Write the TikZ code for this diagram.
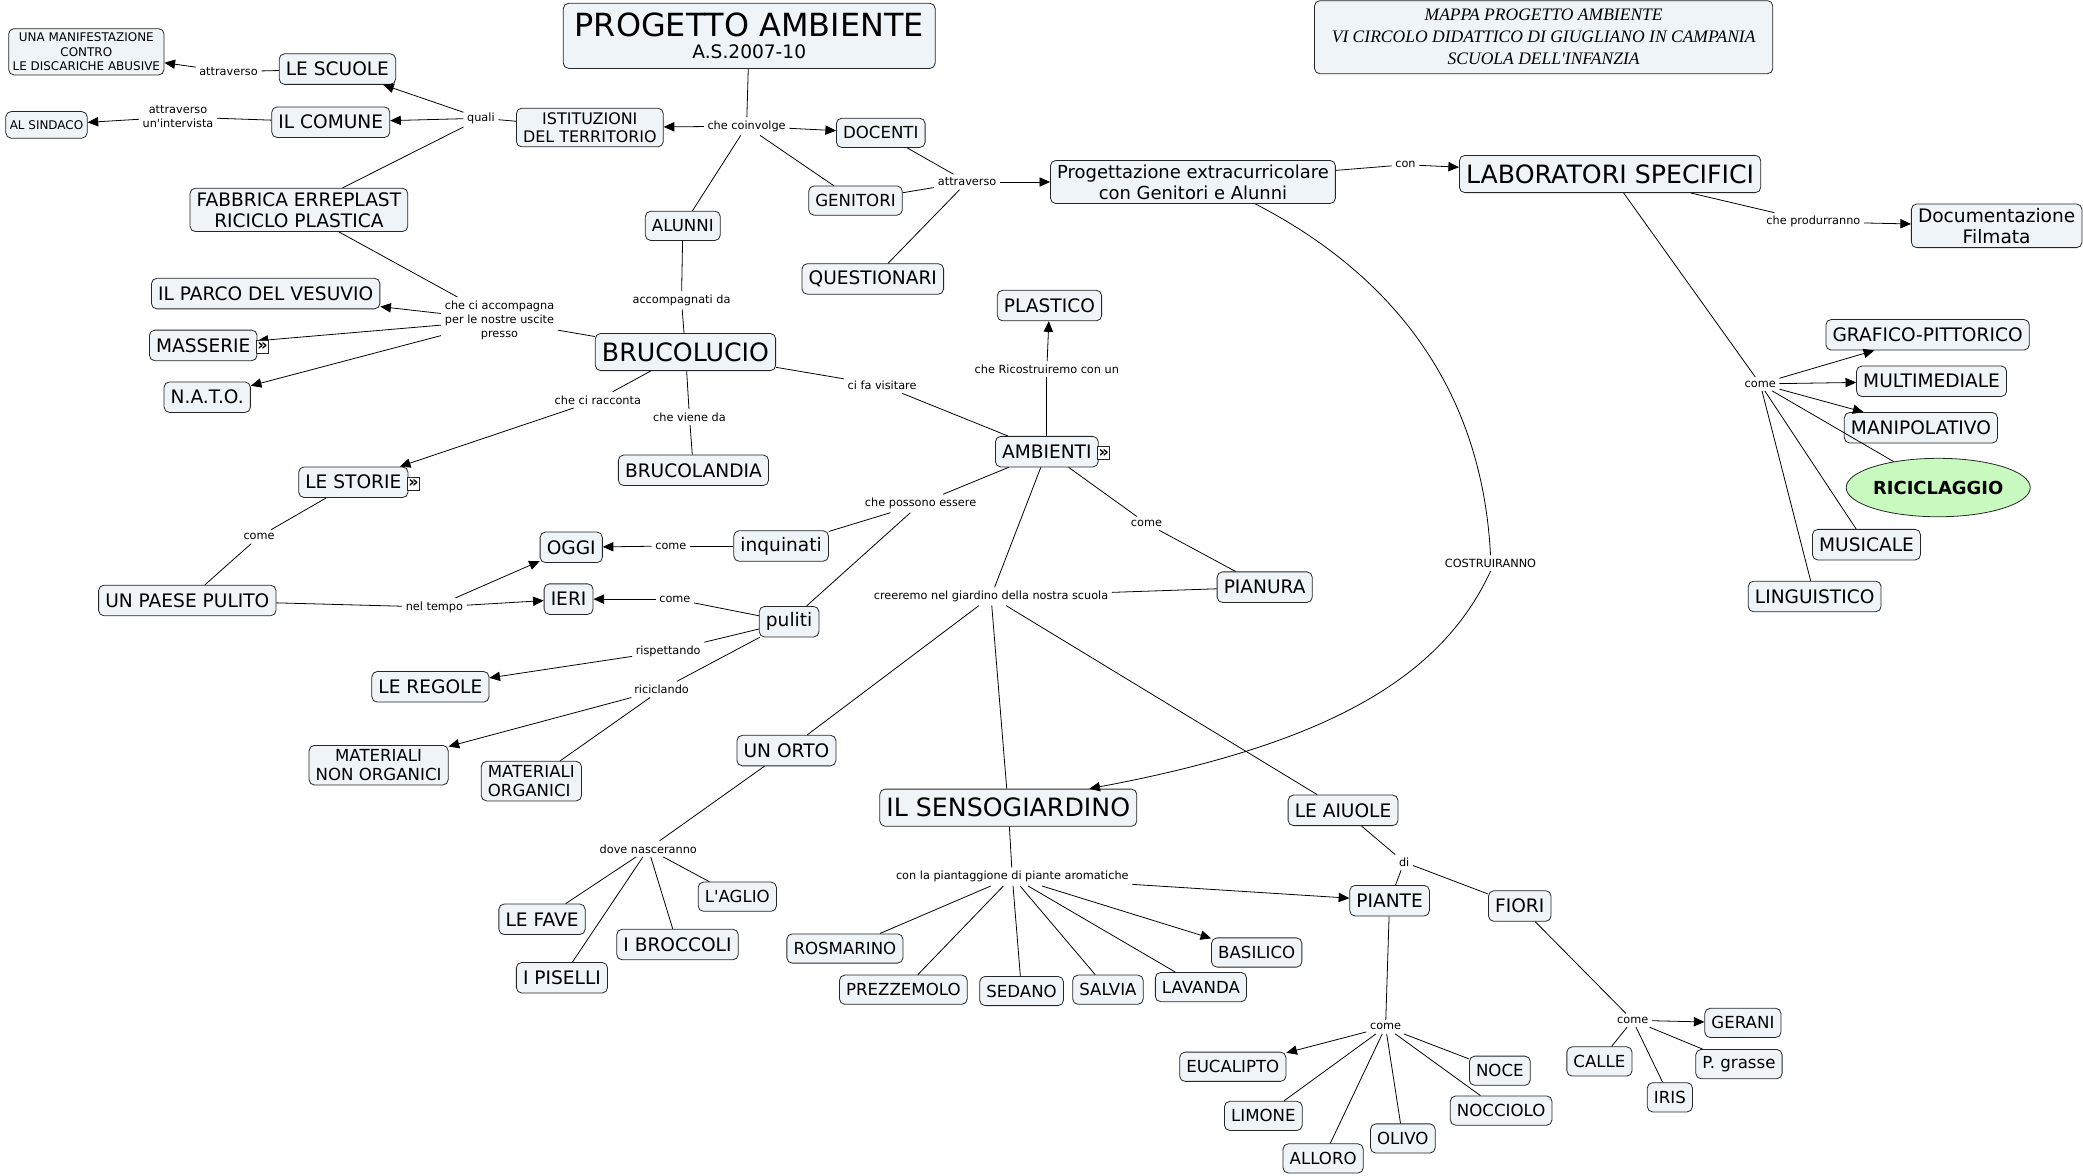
\documentclass[tikz,border=0pt]{standalone}
\usepackage{fontspec}
\setmainfont{DejaVu Sans}
\newfontfamily\headfont{Liberation Serif}
\usetikzlibrary{positioning,shapes.geometric,arrows.meta}
\definecolor{conceptfill}{RGB}{238,244,247}
\definecolor{recyclefill}{RGB}{200,250,192}

\begin{document}
\begin{tikzpicture}[x=1pt, y=-1pt, line width=0.6pt,
        concept/.style={draw=black!85, rounded corners=4pt, fill=conceptfill, align=center, inner xsep=5pt, inner ysep=3pt, minimum height=23pt, font=\fontsize{14}{16}\selectfont},
        smallconcept/.style={concept, minimum height=22pt, font=\fontsize{12.5}{14.5}\selectfont},
        tinyconcept/.style={concept, inner xsep=3pt, minimum height=20pt, font=\fontsize{9}{11}\selectfont},
        bigconcept/.style={concept, minimum height=28pt, font=\fontsize{19}{21}\selectfont},
        link/.style={align=center, inner sep=2.5pt, font=\fontsize{8.5}{10.5}\selectfont},
        iconbox/.style={draw=black!85, fill=white, inner sep=0pt, minimum width=9pt, minimum height=10pt, font=\bfseries\fontsize{12}{12}\selectfont},
        arrow/.style={-{Stealth[length=8pt, width=7pt, inset=0pt]}}
    ]
    \useasboundingbox (0,0) rectangle (1568,885);

    % titles
    \node[concept, minimum width=280pt, minimum height=49pt, inner ysep=2pt] (prog) at (564,27) {{\fontsize{24}{26}\selectfont PROGETTO AMBIENTE}\\[1pt]{\fontsize{14}{16}\selectfont A.S.2007-10}};
    \node[concept, minimum width=345pt, minimum height=55pt, font=\headfont\itshape\fontsize{13.2}{16.5}\selectfont] (mappa) at (1162,28) {MAPPA PROGETTO AMBIENTE\\VI CIRCOLO DIDATTICO DI GIUGLIANO IN CAMPANIA\\SCUOLA DELL\textquotesingle INFANZIA};

    % concepts
    \node[tinyconcept] (manif) at (65,39) {UNA MANIFESTAZIONE\\CONTRO\\LE DISCARICHE ABUSIVE};
    \node[tinyconcept] (sindaco) at (35,94) {AL SINDACO};
    \node[concept] (scuole) at (254,52) {LE SCUOLE};
    \node[concept] (comune) at (249,92) {IL COMUNE};
    \node[smallconcept, font=\fontsize{12}{14}\selectfont] (istit) at (444,96) {ISTITUZIONI\\DEL TERRITORIO};
    \node[concept] (fabbrica) at (225,158) {FABBRICA ERREPLAST\\RICICLO PLASTICA};
    \node[concept] (parco) at (200,221) {IL PARCO DEL VESUVIO};
    \node[concept] (masserie) at (153,260) {MASSERIE};
    \node[concept] (nato) at (156,299) {N.A.T.O.};
    \node[smallconcept] (docenti) at (663,100) {DOCENTI};
    \node[smallconcept] (alunni) at (514,170) {ALUNNI};
    \node[smallconcept] (genitori) at (644,151) {GENITORI};
    \node[concept] (question) at (657,210) {QUESTIONARI};
    \node[concept, font=\fontsize{13.5}{16}\selectfont] (progett) at (898,137) {Progettazione extracurricolare\\con Genitori e Alunni};
    \node[bigconcept] (lab) at (1212,131) {LABORATORI SPECIFICI};
    \node[concept] (docum) at (1503,170) {Documentazione\\Filmata};
    \node[bigconcept] (bruco) at (516,265) {BRUCOLUCIO};
    \node[concept] (plastico) at (790,230) {PLASTICO};
    \node[concept] (brucol) at (522,354) {BRUCOLANDIA};
    \node[concept] (ambienti) at (788,340) {AMBIENTI};
    \node[concept] (storie) at (266,363) {LE STORIE};
    \node[concept] (oggi) at (430,412) {OGGI};
    \node[concept] (inquinati) at (588,411) {inquinati};
    \node[concept] (pianura) at (952,442) {PIANURA};
    \node[concept] (paese) at (141,452) {UN PAESE PULITO};
    \node[concept] (ieri) at (428,451) {IERI};
    \node[concept] (puliti) at (594,468) {puliti};
    \node[concept] (regole) at (324,517) {LE REGOLE};
    \node[smallconcept] (nonorg) at (285,576) {MATERIALI\\NON ORGANICI};
    \node[smallconcept, align=left] (organ) at (400,588) {MATERIALI\\ORGANICI};
    \node[concept] (orto) at (592,565) {UN ORTO};
    \node[bigconcept] (senso) at (759,608) {IL SENSOGIARDINO};
    \node[concept] (aiuole) at (1011,610) {LE AIUOLE};
    \node[smallconcept] (aglio) at (555,675) {L\textquotesingle AGLIO};
    \node[concept] (fave) at (408,692) {LE FAVE};
    \node[concept] (piante) at (1046,678) {PIANTE};
    \node[concept] (fiori) at (1144,682) {FIORI};
    \node[concept] (broccoli) at (510,711) {I BROCCOLI};
    \node[concept] (piselli) at (423,736) {I PISELLI};
    \node[smallconcept] (rosmarino) at (636,714) {ROSMARINO};
    \node[smallconcept] (basilico) at (946,717) {BASILICO};
    \node[smallconcept] (prezz) at (680,745) {PREZZEMOLO};
    \node[smallconcept] (sedano) at (769,746) {SEDANO};
    \node[smallconcept] (salvia) at (834,745) {SALVIA};
    \node[smallconcept] (lavanda) at (904,743) {LAVANDA};
    \node[smallconcept] (gerani) at (1312,770) {GERANI};
    \node[smallconcept] (eucal) at (928,803) {EUCALIPTO};
    \node[smallconcept] (noce) at (1129,806) {NOCE};
    \node[smallconcept] (calle) at (1204,799) {CALLE};
    \node[smallconcept] (pgrasse) at (1309,801) {P. grasse};
    \node[smallconcept] (limone) at (951,840) {LIMONE};
    \node[smallconcept] (nocciolo) at (1130,836) {NOCCIOLO};
    \node[smallconcept] (iris) at (1257,826) {IRIS};
    \node[smallconcept] (olivo) at (1056,857) {OLIVO};
    \node[smallconcept] (alloro) at (996,872) {ALLORO};
    \node[concept] (grafico) at (1451,252) {GRAFICO-PITTORICO};
    \node[concept] (multi) at (1454,287) {MULTIMEDIALE};
    \node[concept] (manip) at (1446,322) {MANIPOLATIVO};
    \node[ellipse, draw=black!85, fill=recyclefill, inner sep=0pt, minimum width=119pt, minimum height=44pt, font=\bfseries\fontsize{13.5}{15}\selectfont] (ricic) at (1459,367) {RICICLAGGIO};
    \node[concept] (musicale) at (1405,410) {MUSICALE};
    \node[concept] (linguist) at (1366,449) {LINGUISTICO};

    % linking phrases
    \node[link] (quali) at (362,89) {quali};
    \node[link] (attrscuole) at (172,54) {attraverso};
    \node[link] (attrcomune) at (134,88) {attraverso\\un\textquotesingle intervista};
    \node[link] (coinvolge) at (562,95) {che coinvolge};
    \node[link] (attrprog) at (728,137) {attraverso};
    \node[link] (con) at (1058,124) {con};
    \node[link] (produrr) at (1365,167) {che produrranno};
    \node[link] (comelab) at (1325,289) {come};
    \node[link] (costruir) at (1122,424) {COSTRUIRANNO};
    \node[link] (accompagnati) at (513,226) {accompagnati da};
    \node[link] (accompagna) at (376,241) {che ci accompagna\\per le nostre uscite\\presso};
    \node[link] (visitare) at (664,290) {ci fa visitare};
    \node[link] (racconta) at (450,301) {che ci racconta};
    \node[link] (viene) at (519,314) {che viene da};
    \node[link] (ricostr) at (788,278) {che Ricostruiremo con un};
    \node[link] (possono) at (693,379) {che possono essere};
    \node[link] (comeamb) at (863,394) {come};
    \node[link] (comestorie) at (195,404) {come};
    \node[link] (cominq) at (505,411) {come};
    \node[link] (creeremo) at (746,449) {creeremo nel giardino della nostra scuola};
    \node[link] (tempo) at (327,457) {nel tempo};
    \node[link] (comepul) at (508,451) {come};
    \node[link] (rispett) at (503,490) {rispettando};
    \node[link] (ricicl) at (498,519) {riciclando};
    \node[link] (nasceranno) at (488,639) {dove nasceranno};
    \node[link] (di) at (1057,649) {di};
    \node[link] (piantagg) at (762,660) {con la piantaggione di piante aromatiche};
    \node[link] (comepiante) at (1043,773) {come};
    \node[link] (comefiori) at (1229,768) {come};

    % connectors
    \draw (istit) -- (quali);
    \draw[arrow] (quali) -- (scuole);
    \draw[arrow] (quali) -- (comune);
    \draw (quali) -- (fabbrica);
    \draw (scuole) -- (attrscuole);
    \draw[arrow] (attrscuole) -- (manif);
    \draw (comune) -- (attrcomune);
    \draw[arrow] (attrcomune) -- (sindaco);
    \draw (prog) -- (coinvolge);
    \draw[arrow] (coinvolge) -- (istit);
    \draw[arrow] (coinvolge) -- (docenti);
    \draw (coinvolge) -- (alunni);
    \draw (coinvolge) -- (genitori);
    \draw (docenti) -- (attrprog);
    \draw (genitori) -- (attrprog);
    \draw (question) -- (attrprog);
    \draw[arrow] (attrprog) -- (progett);
    \draw (progett) -- (con);
    \draw[arrow] (con) -- (lab);
    \draw (lab) -- (produrr);
    \draw[arrow] (produrr) -- (docum);
    \draw (lab) -- (comelab);
    \draw[arrow] (comelab) -- (grafico);
    \draw[arrow] (comelab) -- (multi);
    \draw[arrow] (comelab) -- (manip);
    \draw (comelab) -- (ricic);
    \draw (comelab) -- (musicale);
    \draw (comelab) -- (linguist);
    \draw ([xshift=47pt]progett.south) .. controls (1035,200) and (1115,280) .. (costruir.north);
    \draw[arrow] (costruir.south) .. controls (1085,510) and (1000,560) .. ([xshift=61pt]senso.north);
    \draw (alunni) -- (accompagnati);
    \draw (accompagnati) -- (bruco);
    \draw (fabbrica) -- (accompagna);
    \draw (bruco) -- (accompagna);
    \draw[arrow] (accompagna) -- (parco);
    \draw[arrow] (accompagna) -- (masserie);
    \draw[arrow] (accompagna) -- (nato);
    \draw (bruco) -- (visitare);
    \draw (visitare) -- (ambienti);
    \draw (bruco) -- (racconta);
    \draw[arrow] (racconta) -- (storie);
    \draw (bruco) -- (viene);
    \draw (viene) -- (brucol);
    \draw (ambienti) -- (ricostr);
    \draw[arrow] (ricostr) -- (plastico);
    \draw (ambienti) -- (possono);
    \draw (possono) -- (inquinati);
    \draw (possono) -- (puliti);
    \draw (ambienti) -- (comeamb);
    \draw (comeamb) -- (pianura);
    \draw (ambienti) -- (creeremo);
    \draw (pianura) -- (creeremo);
    \draw (creeremo) -- (orto);
    \draw (creeremo) -- (senso);
    \draw (creeremo) -- (aiuole);
    \draw (storie) -- (comestorie);
    \draw (comestorie) -- (paese);
    \draw (paese) -- (tempo);
    \draw[arrow] (tempo) -- (oggi);
    \draw[arrow] (tempo) -- (ieri);
    \draw (inquinati) -- (cominq);
    \draw[arrow] (cominq) -- (oggi);
    \draw (puliti) -- (comepul);
    \draw[arrow] (comepul) -- (ieri);
    \draw (puliti) -- (rispett);
    \draw[arrow] (rispett) -- (regole);
    \draw (puliti) -- (ricicl);
    \draw[arrow] (ricicl) -- (nonorg);
    \draw (ricicl) -- (organ);
    \draw (orto) -- (nasceranno);
    \draw (nasceranno) -- (fave);
    \draw (nasceranno) -- (piselli);
    \draw (nasceranno) -- (broccoli);
    \draw (nasceranno) -- (aglio);
    \draw (senso) -- (piantagg);
    \draw (piantagg) -- (rosmarino);
    \draw (piantagg) -- (prezz);
    \draw (piantagg) -- (sedano);
    \draw (piantagg) -- (salvia);
    \draw (piantagg) -- (lavanda);
    \draw[arrow] (piantagg) -- (basilico);
    \draw[arrow] (piantagg) -- (piante);
    \draw (aiuole) -- (di);
    \draw (di) -- (piante);
    \draw (di) -- (fiori);
    \draw (piante) -- (comepiante);
    \draw[arrow] (comepiante) -- (eucal);
    \draw (comepiante) -- (limone);
    \draw (comepiante) -- (alloro);
    \draw (comepiante) -- (olivo);
    \draw (comepiante) -- (nocciolo);
    \draw (comepiante) -- (noce);
    \draw (fiori) -- (comefiori);
    \draw[arrow] (comefiori) -- (gerani);
    \draw (comefiori) -- (calle);
    \draw (comefiori) -- (iris);
    \draw (comefiori) -- (pgrasse);

    % expand marks
    \node[iconbox, right=-1pt of masserie, yshift=-1pt] (masserieicon) {»};
    \node[iconbox, right=-1pt of storie, yshift=-1pt] (storieicon) {»};
    \node[iconbox, right=-1pt of ambienti, yshift=-1pt] (ambientiicon) {»};
\end{tikzpicture}
\end{document}
